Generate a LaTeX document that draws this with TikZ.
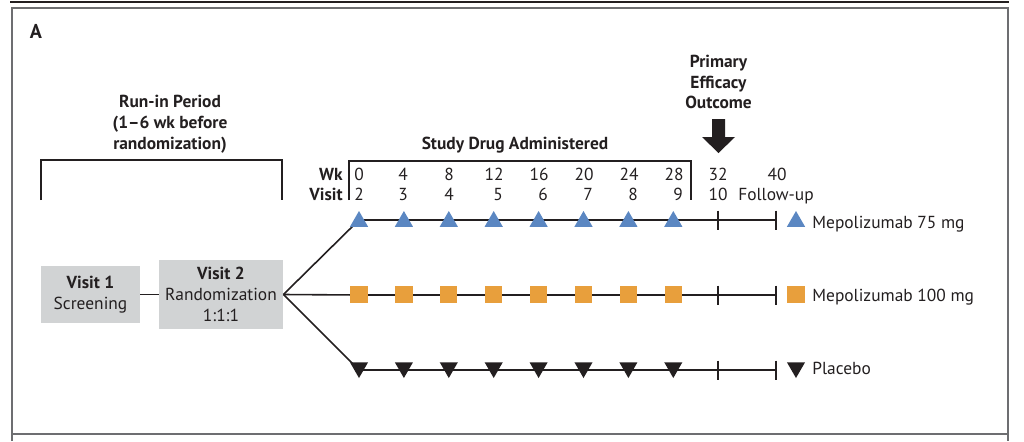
\documentclass[tikz,border=0pt]{standalone}
\usepackage{fontspec}
\setmainfont{PT Sans}
\usetikzlibrary{shapes.geometric}
\definecolor{boxgray}{HTML}{D1D3D4}
\definecolor{framegray}{HTML}{6D6E71}
\definecolor{mepblue}{HTML}{5B87C2}
\definecolor{meporange}{HTML}{E89F3C}
\definecolor{ink}{HTML}{231F20}
\tikzset{
  lbl/.style={font=\fontsize{8.7}{10.4}\selectfont, text=ink, inner sep=0pt},
  blbl/.style={lbl, font=\fontsize{8.7}{10.4}\selectfont\bfseries},
  visitbox/.style={lbl, fill=boxgray, align=center},
  armline/.style={draw=ink, line width=1pt},
  uptri/.style={regular polygon, regular polygon sides=3, fill=mepblue, inner sep=0pt, minimum size=10.5pt},
  dntri/.style={uptri, fill=ink, shape border rotate=180},
  sqmark/.style={fill=meporange, inner sep=0pt, minimum size=8.6pt},
}
\begin{document}
\begin{tikzpicture}[x=0.5pt, y=-0.5pt]
	\useasboundingbox (0,0) rectangle (1024,441);
	% frame
	\draw[ink, line width=0.9pt] (10,2) -- (1009,2);
	\draw[framegray, line width=1.15pt] (12,441) -- (12,8) -- (1008,8) -- (1008,441);
	\draw[framegray, line width=1.15pt] (12,434) -- (1008,434);
	\node[blbl, font=\fontsize{10}{12}\selectfont\bfseries, anchor=base] (panel) at (36,38) {A};

	% brackets
	\node[blbl, align=center] (runin) at (170,124) {Run-in Period\\(1--6 wk before\\randomization)};
	\draw[ink, line width=0.6pt] (41,200) -- (41,160) -- (282,160) -- (282,200);
	\node[blbl, anchor=base] (study) at (515,149) {Study Drug Administered};
	\draw[ink, line width=0.6pt] (349,200) -- (349,161) -- (691,161) -- (691,200);

	% primary outcome
	\node[blbl, align=center] (primary) at (718.5,82) {Primary\\Efficacy\\Outcome};
	\fill[ink] (712,119) -- (725,119) -- (725,137) -- (735,137) -- (718.5,153) -- (702,137) -- (712,137) -- cycle;

	% schedule
	\node[blbl, anchor=base east] (wk) at (343,180) {Wk};
	\node[blbl, anchor=base east] (visit) at (343,200) {Visit};
	\foreach \x/\t in {359/0, 403/4, 449/8, 494/12, 539/16, 584/20, 629/24, 674/28, 718/32, 777/40}
		\node[lbl, anchor=base] (wk\t) at (\x,180) {\t};
	\foreach \x/\t in {359/2, 403/3, 449/4, 498/5, 543/6, 588/7, 633/8, 678/9, 718/10, 776/Follow-up}
		\node[lbl, anchor=base] (vis\x) at (\x,200) {\t};

	% visits
	\node[visitbox, minimum width=49.5pt, minimum height=28.5pt] (v1) at (90.5,294.5) {\textbf{Visit 1}\\Screening};
	\node[visitbox, minimum width=62pt, minimum height=34.5pt] (v2) at (221,294.5) {\textbf{Visit 2}\\Randomization\\1:1:1};
	\draw[ink, line width=0.8pt] (v1) -- (v2);

	% arms
	\foreach \y/\n in {220/a, 295/b, 370/c} {
		\coordinate (\n s) at (359,\y);
		\coordinate (\n m) at (718,\y);
		\coordinate (\n e) at (776,\y);
		\draw[ink, line width=0.8pt] (v2.east) -- (\n s);
		\draw[armline] (\n s) -- (\n e);
		\draw[armline] (\n m) ++(0,-9.5) -- ++(0,19);
		\draw[armline] (\n e) ++(0,-9.5) -- ++(0,19);
	}
	\foreach \i in {0,...,7} {
		\node[uptri] (ta\i) at ({359+44.9*\i},221.5) {};
		\node[sqmark] (sb\i) at ({359+44.9*\i},294.5) {};
		\node[dntri] (tc\i) at ({359+44.9*\i},367.5) {};
	}

	% legend
	\node[uptri] (lga) at (796,221.5) {};
	\node[lbl, anchor=base west] (lta) at (812,228) {Mepolizumab 75 mg};
	\node[sqmark] (lgb) at (796,294.5) {};
	\node[lbl, anchor=base west] (ltb) at (812,301) {Mepolizumab 100 mg};
	\node[dntri] (lgc) at (796,367.5) {};
	\node[lbl, anchor=base west] (ltc) at (812,374) {Placebo};
\end{tikzpicture}
\end{document}
